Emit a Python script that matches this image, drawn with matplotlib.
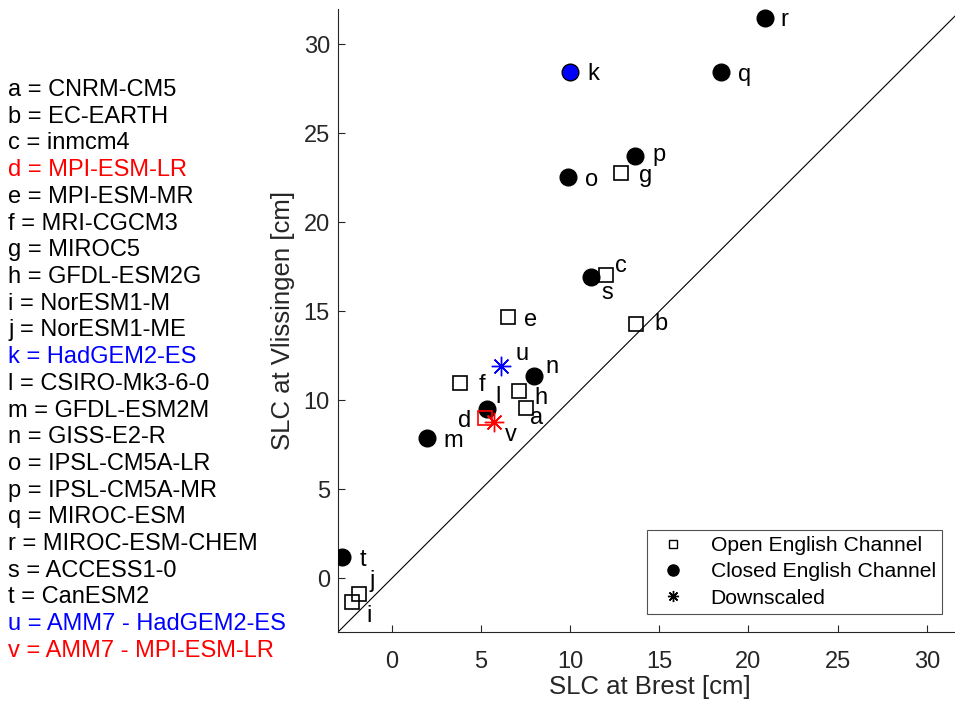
import matplotlib
matplotlib.use('Agg')
import matplotlib.pyplot as plt
from matplotlib.lines import Line2D

plt.rcParams['font.family'] = ['Liberation Sans', 'DejaVu Sans']

# model labels and names
letters = list('abcdefghijklmnopqrstuv')
names = ['CNRM-CM5', 'EC-EARTH', 'inmcm4', 'MPI-ESM-LR', 'MPI-ESM-MR', 'MRI-CGCM3',
         'MIROC5', 'GFDL-ESM2G', 'NorESM1-M', 'NorESM1-ME', 'HadGEM2-ES',
         'CSIRO-Mk3-6-0', 'GFDL-ESM2M', 'GISS-E2-R', 'IPSL-CM5A-LR', 'IPSL-CM5A-MR',
         'MIROC-ESM', 'MIROC-ESM-CHEM', 'ACCESS1-0', 'CanESM2',
         'AMM7 - HadGEM2-ES', 'AMM7 - MPI-ESM-LR']
name_colors = {'d': 'red', 'k': 'blue', 'u': 'blue', 'v': 'red'}

# SLC at Brest / Vlissingen [cm]
brest = [7.55, 13.7, 12.0, 5.2, 6.5, 3.85, 12.85, 7.15, -2.25, -1.85,
         10.0, 5.35, 1.95, 8.0, 9.9, 13.65, 18.45, 20.95, 11.15, -2.8,
         6.1, 5.75]
vliss = [9.55, 14.3, 17.05, 9.0, 14.7, 11.0, 22.75, 10.5, -1.35, -0.9,
         28.45, 9.5, 7.9, 11.35, 22.55, 23.7, 28.45, 31.45, 16.95, 1.2,
         11.95, 8.8]
group = ['open'] * 10 + ['closed'] * 10 + ['down'] * 2

# label offsets in pixels (dx, dy up)
offsets = {'a': (10, -10), 'b': (25, 0), 'c': (15, 9), 'd': (-20, -3), 'e': (23, -3),
           'f': (21, -2), 'g': (25, -3), 'h': (22, -7), 'i': (17, -14), 'j': (13, 13),
           'k': (23, -2), 'l': (11, 12), 'm': (27, -3), 'n': (18, 9), 'o': (23, -3),
           'p': (24, 1), 'q': (24, -3), 'r': (19, -2), 's': (17, -16), 't': (21, -3),
           'u': (21, 12), 'v': (17, -13)}

fig = plt.figure(figsize=(9.55, 7.02), dpi=100)
ax = fig.add_axes([338.3 / 955, 0.1001, 0.6535, 0.8875])

ax.plot([-3, 32], [-3, 32], color='black', lw=0.8, zorder=1)

for lt, x, y, g in zip(letters, brest, vliss, group):
    col = name_colors.get(lt, 'black')
    if g == 'open':
        z = 5 if lt == 'd' else 3
        ax.plot(x, y, marker='s', ms=9.5, mfc='none', mec=col, mew=1.2, ls='none', zorder=z)
    elif g == 'closed':
        fc = 'blue' if lt == 'k' else 'black'
        ax.plot(x, y, marker='o', ms=12, mfc=fc, mec='black', mew=1.0, ls='none', zorder=4)
    else:
        ax.plot(x, y, marker=(8, 2, 0), ms=14, mec=col, mew=1.0, ls='none', zorder=6)
    dx, dy = offsets[lt]
    ax.annotate(lt, (x, y), xytext=(dx, dy), textcoords='offset pixels',
                ha='center', va='center', fontsize=17, color='black')

ax.set_xlim(-3, 32)
ax.set_ylim(-3, 32)
ax.set_xticks(range(0, 31, 5))
ax.set_yticks(range(0, 31, 5))
for sp in ['top', 'right']:
    ax.spines[sp].set_visible(False)
for sp in ['left', 'bottom']:
    ax.spines[sp].set_color('#262626')
    ax.spines[sp].set_linewidth(0.8)
ax.tick_params(direction='in', length=5, colors='#262626', labelsize=17)
ax.tick_params(axis='x', pad=14)
ax.tick_params(axis='y', pad=6)
ax.set_xlabel('SLC at Brest [cm]', fontsize=18.5, color='#262626', labelpad=1)
ax.set_ylabel('SLC at Vlissingen [cm]', fontsize=18.5, color='#262626', labelpad=6)

handles = [Line2D([], [], marker='s', ms=6, mfc='white', mec='black', ls='none'),
           Line2D([], [], marker='o', ms=8, mfc='black', mec='black', ls='none'),
           Line2D([], [], marker=(8, 2, 0), ms=8, mec='black', mew=1, ls='none')]
leg = ax.legend(handles, ['Open English Channel', 'Closed English Channel', 'Downscaled'],
                loc='lower right', bbox_to_anchor=(942 / 955, (702 - 614) / 702),
                bbox_transform=fig.transFigure, fontsize=15.2, frameon=True, fancybox=False,
                edgecolor='#262626', borderpad=0.3, labelspacing=0.35, handletextpad=0.9,
                handlelength=1.8, borderaxespad=0)
leg.get_frame().set_linewidth(0.8)

# model key on the left
for i, (lt, nm) in enumerate(zip(letters, names)):
    fig.text(8 / 955, 1 - (90 + i * 26.71) / 702, f'{lt} = {nm}', fontsize=17,
             color=name_colors.get(lt, 'black'), ha='left', va='center')

fig.savefig('out.png', dpi=100)
